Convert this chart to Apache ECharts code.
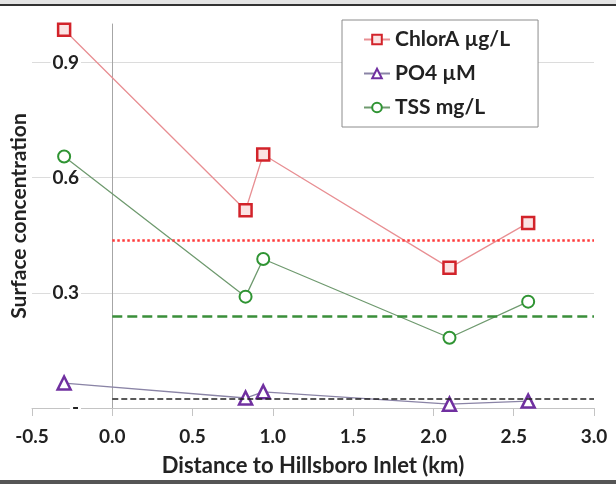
<!DOCTYPE html>
<html>
<head>
<meta charset="utf-8">
<style>
  html, body { margin: 0; padding: 0; background: #fff; }
  #chart { width: 616px; height: 484px; }
</style>
<script src="https://cdn.jsdelivr.net/npm/echarts@6/dist/echarts.min.js"></script>
</head>
<body>
<div id="chart"></div>
<script>
// station distances (km) and surface values
var distances = [-0.3, 0.83, 0.94, 2.1, 2.59];
var chlorA = [0.985, 0.515, 0.66, 0.365, 0.482];
var po4 = [0.065, 0.026, 0.042, 0.01, 0.018];
var tss = [0.655, 0.29, 0.388, 0.183, 0.277];
// horizontal reference levels
var refChlorA = 0.438;
var refPo4 = 0.023;
var refTss = 0.24;
var seriesNames = ['ChlorA µg/L', 'PO4 µM', 'TSS mg/L'];

var FONT = 'Lato';

function pairs(vals) {
  return distances.map(function (d, i) { return [d, vals[i]]; });
}
function refLine(v, color, type, width) {
  return {
    silent: true,
    symbol: 'none',
    label: { show: false },
    lineStyle: { color: color, type: type, width: width },
    data: [[{ coord: [0, v] }, { coord: [3.0, v] }]]
  };
}

var chart = echarts.init(document.getElementById('chart'));
var option = {
  animation: false,
  backgroundColor: '#fff',
  textStyle: { fontFamily: FONT },
  grid: { left: 32, right: 22, top: 24, bottom: 76, containLabel: false, outerBoundsMode: 'none' },
  legend: {
    data: seriesNames,
    orient: 'vertical',
    left: 342,
    top: 20,
    padding: [9, 28, 9, 21],
    itemGap: 13,
    itemWidth: 26,
    itemHeight: 12,
    borderColor: '#8c8c8c',
    borderWidth: 1,
    backgroundColor: '#fff',
    textStyle: { fontFamily: FONT, fontWeight: 'bold', fontSize: 21, color: '#222' }
  },
  xAxis: {
    type: 'value',
    min: -0.5,
    max: 3.0,
    interval: 0.5,
    name: 'Distance to Hillsboro Inlet (km)',
    nameLocation: 'middle',
    nameGap: 47,
    nameTextStyle: { fontFamily: FONT, fontWeight: 'bold', fontSize: 22, color: '#222' },
    axisLine: { lineStyle: { color: '#c4c4c4' } },
    axisTick: { show: true, length: 8, lineStyle: { color: '#c4c4c4' } },
    axisLabel: {
      margin: 19,
      fontFamily: FONT, fontWeight: 'bold', fontSize: 19, color: '#222',
      formatter: function (v) { return v.toFixed(1); }
    },
    splitLine: { show: false }
  },
  yAxis: {
    type: 'value',
    min: 0,
    max: 1.0,
    interval: 0.3,
    name: 'Surface concentration',
    nameLocation: 'middle',
    nameGap: 2,
    nameTextStyle: { fontFamily: FONT, fontWeight: 'bold', fontSize: 21, color: '#222' },
    axisLine: { show: true, onZero: true, lineStyle: { color: '#a6a6a6' } },
    axisTick: { show: false },
    axisLabel: {
      margin: -49,
      showMaxLabel: false,
      fontFamily: FONT, fontWeight: 'bold', fontSize: 19, color: '#222',
      backgroundColor: '#fff',
      padding: [0, 2, 0, 2],
      formatter: function (v) { return v === 0 ? '-' : v.toFixed(1); }
    },
    splitLine: { show: true, showMinLine: false, showMaxLine: false, lineStyle: { color: '#dcdcdc' } }
  },
  series: [
    {
      name: seriesNames[0],
      type: 'line',
      data: pairs(chlorA),
      symbol: 'rect',
      symbolSize: 12,
      itemStyle: { color: '#fbe3e3', borderColor: '#d2232a', borderWidth: 2.5 },
      lineStyle: { color: '#e88f93', width: 1.3 },
      markLine: refLine(refChlorA, '#ff3b3b', 'dotted', 2.5),
      z: 3
    },
    {
      name: seriesNames[1],
      type: 'line',
      data: pairs(po4),
      symbol: 'triangle',
      symbolSize: 13,
      itemStyle: { color: '#fff', borderColor: '#7030a0', borderWidth: 2.5 },
      lineStyle: { color: '#8a84a6', width: 1.3 },
      markLine: refLine(refPo4, '#222', 'dashed', 1.5),
      z: 3
    },
    {
      name: seriesNames[2],
      type: 'line',
      data: pairs(tss),
      symbol: 'circle',
      symbolSize: 12,
      itemStyle: { color: '#fff', borderColor: '#2f9433', borderWidth: 2 },
      lineStyle: { color: '#6f9a6f', width: 1.3 },
      markLine: refLine(refTss, '#3a8f3a', 'dashed', 2.5),
      z: 3
    }
  ],
  graphic: [
    { type: 'rect', left: 0, top: 0, shape: { width: 616, height: 4 }, style: { fill: '#e4e4e4' }, silent: true },
    { type: 'rect', left: 0, top: 4, shape: { width: 616, height: 2 }, style: { fill: '#333' }, silent: true },
    { type: 'rect', left: 0, top: 480, shape: { width: 616, height: 4 }, style: { fill: '#555' }, silent: true }
  ]
};
chart.setOption(option);
</script>
</body>
</html>
